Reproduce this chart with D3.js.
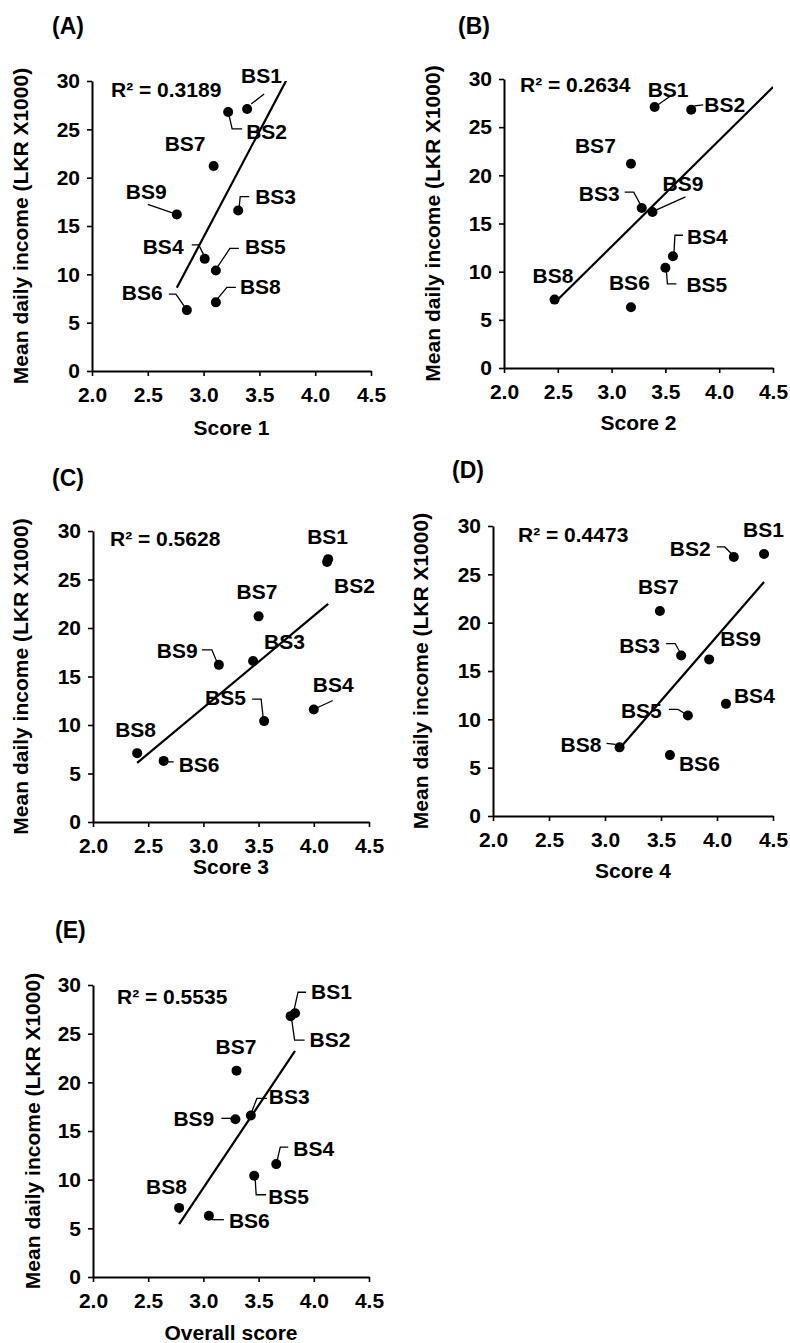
<!DOCTYPE html>
<html>
<head>
<meta charset="utf-8">
<title>Mean daily income vs scores</title>
<script src="https://cdn.jsdelivr.net/npm/d3@7"></script>
<style>
  body { margin: 0; background: #fff; }
  text { font-family: "Liberation Sans", Arial, sans-serif; font-weight: bold; fill: #000; }
</style>
</head>
<body>
<script>
// ---- data ----
var sites   = ["BS1", "BS2", "BS3", "BS4", "BS5", "BS6", "BS7", "BS8", "BS9"];
var income  = [27.1, 26.8, 16.6, 11.6, 10.4, 6.3, 21.2, 7.1, 16.2];   // LKR x1000
var score1  = [3.39, 3.22, 3.31, 3.01, 3.11, 2.85, 3.09, 3.11, 2.76];
var score2  = [3.40, 3.74, 3.28, 3.57, 3.50, 3.18, 3.18, 2.47, 3.38];
var score3  = [4.13, 4.12, 3.45, 4.00, 3.55, 2.64, 3.50, 2.40, 3.14];
var score4  = [4.42, 4.15, 3.68, 4.08, 3.74, 3.58, 3.49, 3.13, 3.93];
var overall = [3.83, 3.79, 3.43, 3.66, 3.46, 3.05, 3.30, 2.78, 3.29];
var rSquared = ["0.3189", "0.2634", "0.5628", "0.4473", "0.5535"];
var xTitles  = ["Score 1", "Score 2", "Score 3", "Score 4", "Overall score"];
var letters  = ["(A)", "(B)", "(C)", "(D)", "(E)"];
var trendForward = [0.4, 0.76, 0, 0, 0];   // trendline forecast beyond last x
var xTicks = [2.0, 2.5, 3.0, 3.5, 4.0, 4.5];
var yTicks = [0, 5, 10, 15, 20, 25, 30];
var yTitle = "Mean daily income (LKR X1000)";

var scores = [score1, score2, score3, score4, overall];

// ---- layout (pixels) ----
var panels = [
  {x0: 92,  x1: 371, y0: 81,  y1: 371,  letter: [52, 34],   r2: [111, 97],   xt: 64, yt: 64},
  {x0: 504, x1: 773, y0: 79,  y1: 368,  letter: [458, 34],  r2: [520, 92],   xt: 62, yt: 64},
  {x0: 93,  x1: 369, y0: 531, y1: 822,  letter: [52, 486],  r2: [110, 546],  xt: 52, yt: 65},
  {x0: 493, x1: 773, y0: 526, y1: 816,  letter: [452, 478], r2: [518, 542],  xt: 62, yt: 65},
  {x0: 93,  x1: 369, y0: 985, y1: 1277, letter: [55, 938],  r2: [117, 1004], xt: 63, yt: 53}
];

// label offsets from each dot: [dx, dy(baseline), leader polyline]
var labelPos = [
  [[-6,-26,[[4,-5],[17,-15]]], [18,27,[[1,4],[4,17],[14,17]]], [17,-7,[[1,-3],[2,-14],[11,-14]]],
   [-62,-5,[[-13,-14],[-6,-14],[-1,-4]]], [29,-16,[[2,-4],[14,-22],[23,-22]]], [-65,-10,[[-18,-16],[-11,-16],[-2,-3]]],
   [-49,-15,null], [24,-8,[[2,-4],[11,-15],[20,-15]]], [-51,-15,[[-29,-10],[-3,-1]]]],
  [[-7,-10,[[3,-2],[16,-11]]], [13,2,[[3,-4],[12,-5]]], [-63,-7,[[-17,-16],[-8,-16],[-1,-3]]],
   [14,-12,[[1,-3],[2,-21],[10,-21]]], [21,24,[[1,3],[2,16],[11,16]]], [-22,-17,null],
   [-56,-11,null], [-22,-17,null], [10,-21,[[4,-2],[33,-15]]]],
  [[-21,-15,null], [7,31,null], [11,-12,null],
   [-1,-17,[[4,-2],[19,-9]]], [-59,-16,[[-12,-22],[-3,-22],[-1,-4]]], [15,11,[[2,1],[10,1]]],
   [-22,-17,null], [-22,-16,null], [-62,-7,[[-17,-15],[-7,-15],[-2,-3]]]],
  [[-21,-17,null], [-64,-1,[[-17,-10],[-9,-10],[-2,-3]]], [-62,-3,[[-15,-12],[-6,-12],[-1,-3]]],
   [8,-1,null], [-67,3,[[-19,-6],[-10,-6],[-3,-2]]], [9,16,null],
   [-22,-17,null], [-59,5,[[-13,-4],[-4,-3]]], [11,-13,null]],
  [[16,-14,[[-1,-3],[3,-21],[11,-21]]], [19,31,[[1,3],[4,24],[14,24]]], [18,-11,[[1,-4],[6,-17],[16,-17]]],
   [17,-8,[[1,-4],[4,-17],[12,-17]]], [14,28,[[1,3],[2,19],[12,19]]], [20,12,[[3,4],[15,4]]],
   [-21,-17,null], [-33,-14,null], [-62,7,[[-14,-1],[-4,-1]]]]
];

var svg = d3.select("body").append("svg")
  .attr("width", 790)
  .attr("height", 1343);

function linearFit(xs, ys) {
  var mx = d3.mean(xs), my = d3.mean(ys);
  var sxy = d3.sum(xs, function(d, i) { return (d - mx) * (ys[i] - my); });
  var sxx = d3.sum(xs, function(d) { return (d - mx) * (d - mx); });
  var b = sxy / sxx;
  return {slope: b, intercept: my - b * mx};
}

panels.forEach(function(p, k) {
  var xs = scores[k];
  var x = d3.scaleLinear().domain([2.0, 4.5]).range([p.x0, p.x1]);
  var y = d3.scaleLinear().domain([0, 30]).range([p.y1, p.y0]);
  var g = svg.append("g");

  // axes
  var xAxis = g.append("g")
    .attr("transform", "translate(0," + p.y1 + ")")
    .call(d3.axisBottom(x).tickValues(xTicks).tickFormat(d3.format(".1f"))
      .tickSize(5).tickSizeOuter(0).tickPadding(11));
  var yAxis = g.append("g")
    .attr("transform", "translate(" + p.x0 + ",0)")
    .call(d3.axisLeft(y).tickValues(yTicks).tickSize(5).tickSizeOuter(0).tickPadding(7));
  [xAxis, yAxis].forEach(function(a) {
    a.select(".domain").attr("stroke", "#000").attr("stroke-width", 2);
    a.selectAll(".tick line").attr("stroke", "#000").attr("stroke-width", 1.6);
    a.selectAll(".tick text").attr("font-size", 21)
      .style("font-family", "'Liberation Sans', Arial, sans-serif").style("font-weight", "bold");
    a.attr("font-family", null).attr("font-size", null);
  });

  // axis titles
  g.append("text")
    .attr("x", (p.x0 + p.x1) / 2)
    .attr("y", p.y1 + p.xt)
    .attr("text-anchor", "middle")
    .attr("font-size", 21)
    .text(xTitles[k]);
  g.append("text")
    .attr("transform", "translate(" + (p.x0 - p.yt) + "," + ((p.y0 + p.y1) / 2) + ") rotate(-90)")
    .attr("text-anchor", "middle")
    .attr("font-size", 21)
    .text(yTitle);

  // panel letter
  g.append("text")
    .attr("x", p.letter[0]).attr("y", p.letter[1])
    .attr("font-size", 23)
    .text(letters[k]);

  // R squared
  g.append("text")
    .attr("x", p.r2[0]).attr("y", p.r2[1])
    .attr("font-size", 21)
    .text("R\u00b2 = " + rSquared[k]);

  // trendline (least squares), clipped to plot area
  var fit = linearFit(xs, income);
  var clipId = "clip" + k;
  svg.append("clipPath").attr("id", clipId)
    .append("rect")
    .attr("x", p.x0).attr("y", p.y0)
    .attr("width", p.x1 - p.x0).attr("height", p.y1 - p.y0);
  var xa = d3.min(xs), xb = d3.max(xs) + trendForward[k];
  g.append("line")
    .attr("clip-path", "url(#" + clipId + ")")
    .attr("x1", x(xa)).attr("y1", y(fit.intercept + fit.slope * xa))
    .attr("x2", x(xb)).attr("y2", y(fit.intercept + fit.slope * xb))
    .attr("stroke", "#000").attr("stroke-width", 2.2);

  // leader lines
  var line = d3.line();
  sites.forEach(function(s, i) {
    var lp = labelPos[k][i];
    if (!lp[2]) return;
    var cx = x(xs[i]), cy = y(income[i]);
    g.append("path")
      .attr("d", line(lp[2].map(function(o) { return [cx + o[0], cy + o[1]]; })))
      .attr("fill", "none").attr("stroke", "#000").attr("stroke-width", 1.3);
  });

  // points
  g.selectAll("circle")
    .data(sites)
    .enter().append("circle")
    .attr("cx", function(d, i) { return x(xs[i]); })
    .attr("cy", function(d, i) { return y(income[i]); })
    .attr("r", 5)
    .attr("fill", "#000");

  // point labels
  g.selectAll("text.site")
    .data(sites)
    .enter().append("text")
    .attr("class", "site")
    .attr("x", function(d, i) { return x(xs[i]) + labelPos[k][i][0]; })
    .attr("y", function(d, i) { return y(income[i]) + labelPos[k][i][1]; })
    .attr("font-size", 21)
    .text(function(d) { return d; });
});
</script>
</body>
</html>
